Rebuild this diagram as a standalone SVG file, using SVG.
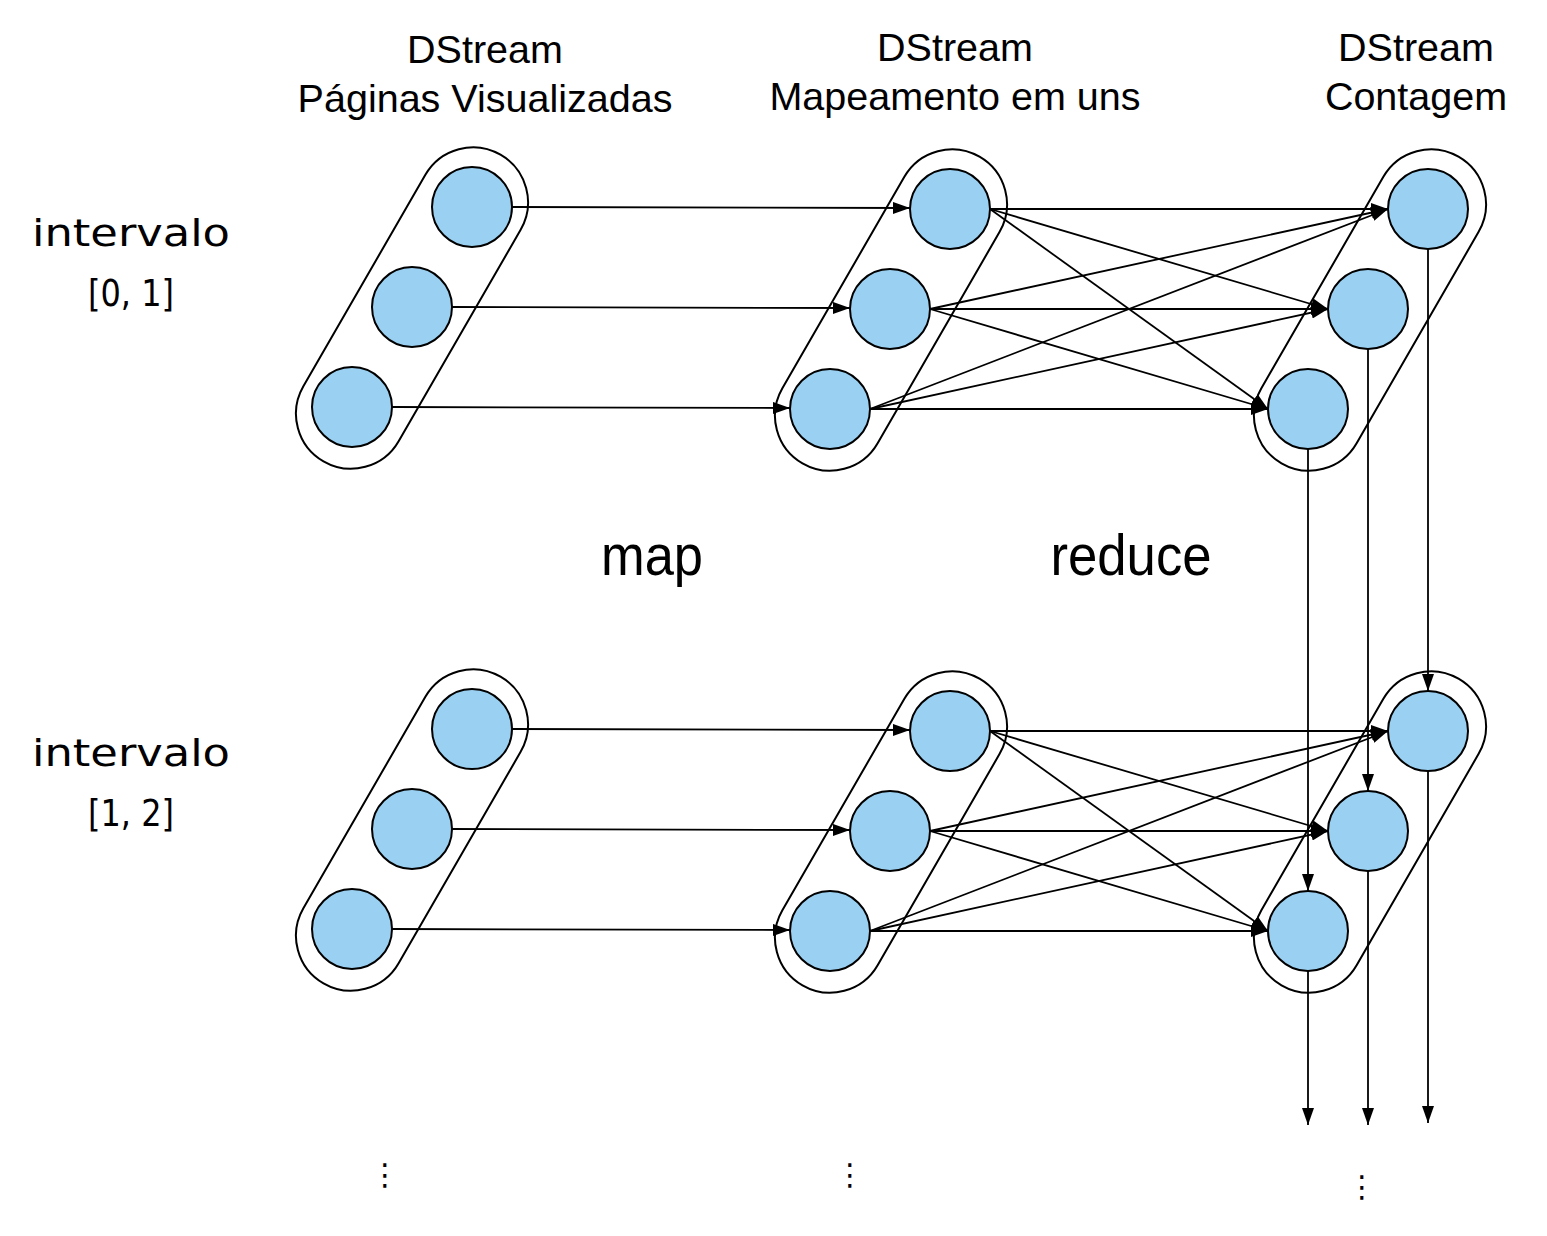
<svg xmlns="http://www.w3.org/2000/svg" width="1547" height="1236" viewBox="0 0 1547 1236">
<defs>
<style>
.cap{fill:none;stroke:#000;stroke-width:2}
.nd{fill:#9ad1f2;stroke:#000;stroke-width:2}
.ln{fill:none;stroke:#000;stroke-width:1.8;marker-end:url(#ah)}
.hd{font-family:"Liberation Sans",Arial,sans-serif;font-size:39.5px;text-anchor:middle;fill:#000}
.op{font-family:"Liberation Sans",Arial,sans-serif;font-size:58px;text-anchor:middle;fill:#000}
.iv{font-family:"DejaVu Sans","Noto Sans",sans-serif;font-size:38px;text-anchor:middle;fill:#000}
.dt{font-family:"DejaVu Sans",sans-serif;font-size:30px;text-anchor:middle;fill:#000}
</style>
<marker id="ah" markerUnits="userSpaceOnUse" markerWidth="17" markerHeight="12" refX="17" refY="6" orient="auto"><path d="M0,0 L17,6 L0,12 z" fill="#000"/></marker>
</defs>
<rect width="1547" height="1236" fill="#fff"/>

<g id="labels">
<text class="hd" x="485" y="63">DStream</text>
<text class="hd" x="485" y="112">Páginas Visualizadas</text>
<text class="hd" x="955" y="61">DStream</text>
<text class="hd" x="955" y="110">Mapeamento em uns</text>
<text class="hd" x="1416" y="61">DStream</text>
<text class="hd" x="1416" y="110">Contagem</text>
<text class="iv" x="131" y="246" textLength="198" lengthAdjust="spacingAndGlyphs">intervalo</text>
<text class="iv" x="131" y="306" textLength="86" lengthAdjust="spacingAndGlyphs">[0, 1]</text>
<text class="iv" x="131" y="766" textLength="198" lengthAdjust="spacingAndGlyphs">intervalo</text>
<text class="iv" x="131" y="826" textLength="86" lengthAdjust="spacingAndGlyphs">[1, 2]</text>
<text class="op" x="652" y="575" textLength="102" lengthAdjust="spacingAndGlyphs">map</text>
<text class="op" x="1131" y="575" textLength="161" lengthAdjust="spacingAndGlyphs">reduce</text>
<text class="dt" x="385" y="1185">⋮</text>
<text class="dt" x="850" y="1185">⋮</text>
<text class="dt" x="1362" y="1197">⋮</text>
</g>

<g id="connectors">
<line class="ln" x1="512" y1="207" x2="910" y2="208"/>
<line class="ln" x1="452" y1="307" x2="850" y2="308"/>
<line class="ln" x1="392" y1="407" x2="790" y2="408"/>
<line class="ln" x1="990" y1="209" x2="1388" y2="209"/>
<line class="ln" x1="990" y1="209" x2="1328" y2="309"/>
<line class="ln" x1="990" y1="209" x2="1268" y2="409"/>
<line class="ln" x1="930" y1="309" x2="1388" y2="209"/>
<line class="ln" x1="930" y1="309" x2="1328" y2="309"/>
<line class="ln" x1="930" y1="309" x2="1268" y2="409"/>
<line class="ln" x1="870" y1="409" x2="1388" y2="209"/>
<line class="ln" x1="870" y1="409" x2="1328" y2="309"/>
<line class="ln" x1="870" y1="409" x2="1268" y2="409"/>
<line class="ln" x1="1308" y1="449" x2="1308" y2="891"/>
<line class="ln" x1="1368" y1="349" x2="1368" y2="791"/>
<line class="ln" x1="1428" y1="249" x2="1428" y2="691"/>
<line class="ln" x1="512" y1="729" x2="910" y2="730"/>
<line class="ln" x1="452" y1="829" x2="850" y2="830"/>
<line class="ln" x1="392" y1="929" x2="790" y2="930"/>
<line class="ln" x1="990" y1="731" x2="1388" y2="731"/>
<line class="ln" x1="990" y1="731" x2="1328" y2="831"/>
<line class="ln" x1="990" y1="731" x2="1268" y2="931"/>
<line class="ln" x1="930" y1="831" x2="1388" y2="731"/>
<line class="ln" x1="930" y1="831" x2="1328" y2="831"/>
<line class="ln" x1="930" y1="831" x2="1268" y2="931"/>
<line class="ln" x1="870" y1="931" x2="1388" y2="731"/>
<line class="ln" x1="870" y1="931" x2="1328" y2="831"/>
<line class="ln" x1="870" y1="931" x2="1268" y2="931"/>
<line class="ln" x1="1308" y1="971" x2="1308" y2="1125"/>
<line class="ln" x1="1368" y1="871" x2="1368" y2="1125"/>
<line class="ln" x1="1428" y1="771" x2="1428" y2="1123"/>
</g>

<g id="pv-0">
<rect class="cap" x="-177" y="-55" width="354" height="110" rx="55" transform="translate(412,308) rotate(-60)"/>
<circle id="pv-0-a" class="nd" cx="472" cy="207" r="40"/>
<circle id="pv-0-b" class="nd" cx="412" cy="307" r="40"/>
<circle id="pv-0-c" class="nd" cx="352" cy="407" r="40"/>
</g>
<g id="map-0">
<rect class="cap" x="-177" y="-55" width="354" height="110" rx="55" transform="translate(891,310) rotate(-60)"/>
<circle id="map-0-a" class="nd" cx="950" cy="209" r="40"/>
<circle id="map-0-b" class="nd" cx="890" cy="309" r="40"/>
<circle id="map-0-c" class="nd" cx="830" cy="409" r="40"/>
</g>
<g id="cnt-0">
<rect class="cap" x="-177" y="-55" width="354" height="110" rx="55" transform="translate(1370,310) rotate(-60)"/>
<circle id="cnt-0-a" class="nd" cx="1428" cy="209" r="40"/>
<circle id="cnt-0-b" class="nd" cx="1368" cy="309" r="40"/>
<circle id="cnt-0-c" class="nd" cx="1308" cy="409" r="40"/>
</g>
<g id="pv-1">
<rect class="cap" x="-177" y="-55" width="354" height="110" rx="55" transform="translate(412,830) rotate(-60)"/>
<circle id="pv-1-a" class="nd" cx="472" cy="729" r="40"/>
<circle id="pv-1-b" class="nd" cx="412" cy="829" r="40"/>
<circle id="pv-1-c" class="nd" cx="352" cy="929" r="40"/>
</g>
<g id="map-1">
<rect class="cap" x="-177" y="-55" width="354" height="110" rx="55" transform="translate(891,832) rotate(-60)"/>
<circle id="map-1-a" class="nd" cx="950" cy="731" r="40"/>
<circle id="map-1-b" class="nd" cx="890" cy="831" r="40"/>
<circle id="map-1-c" class="nd" cx="830" cy="931" r="40"/>
</g>
<g id="cnt-1">
<rect class="cap" x="-177" y="-55" width="354" height="110" rx="55" transform="translate(1370,832) rotate(-60)"/>
<circle id="cnt-1-a" class="nd" cx="1428" cy="731" r="40"/>
<circle id="cnt-1-b" class="nd" cx="1368" cy="831" r="40"/>
<circle id="cnt-1-c" class="nd" cx="1308" cy="931" r="40"/>
</g>
</svg>
